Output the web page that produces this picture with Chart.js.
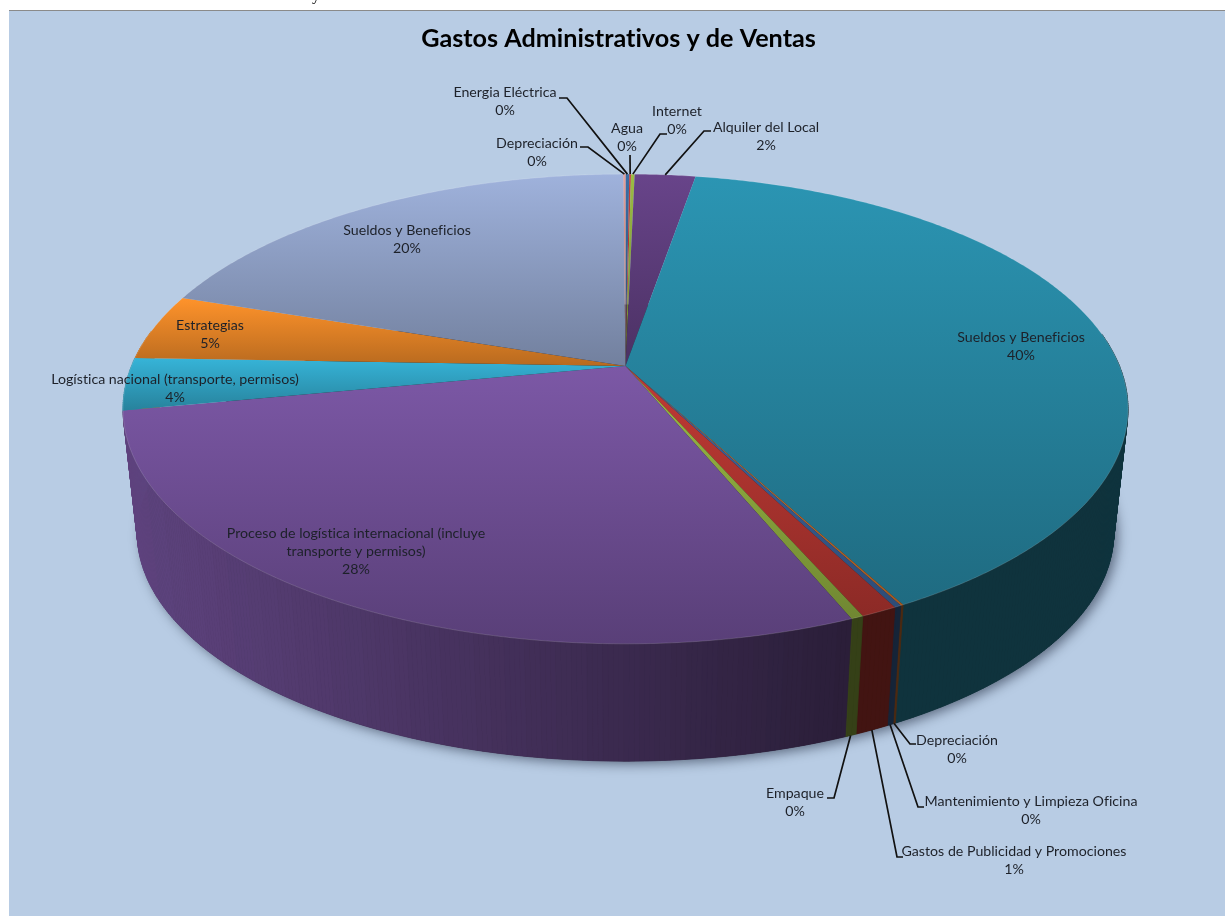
<!DOCTYPE html>
<html>
<head>
<meta charset="utf-8">
<title>Gastos Administrativos y de Ventas</title>
<script src="https://cdn.jsdelivr.net/npm/chart.js@4/dist/chart.umd.js"></script>
<style>
	html, body { margin: 0; padding: 0; background: #fff; overflow: hidden; }
	#chart_pie { position: absolute; left: 0; top: 0; }
	#resto { position: absolute; left: 312px; top: -14px; font: 16px "Liberation Serif", serif; color: #000; }
</style>
</head>
<body>
<canvas id="chart_pie" width="1225" height="916"></canvas>
<span id="resto">y</span>
<script>
var categorias = [
	"Energia Eléctrica",
	"Agua",
	"Internet",
	"Alquiler del Local",
	"Sueldos y Beneficios",
	"Depreciación",
	"Mantenimiento y Limpieza Oficina",
	"Gastos de Publicidad y Promociones",
	"Empaque",
	"Proceso de logística internacional (incluye\ntransporte y permisos)",
	"Logística nacional (transporte, permisos)",
	"Estrategias",
	"Sueldos y Beneficios",
	"Depreciación"
];
var porcentajes = [0.145, 0.065, 0.14, 2.33, 39.51, 0.075, 0.19, 1.0, 0.34, 28.17, 3.6, 4.56, 19.795, 0.08];
var colores = ["#3a6ea5", "#c8403a", "#9cbc45", "#68448a", "#2b95b3", "#e07a2e", "#3e6aa5",
	"#c23a35", "#9cbc45", "#7c58a6", "#36b4d8", "#ff932b", "#9fb2dc", "#e8a09a"];

// centro del texto de cada etiqueta
var pos_etiquetas = [[505, 92], [627, 128], [677, 111], [766, 127], [1021, 337], [957, 740], [1031, 801],
	[1014, 851], [795, 793], [356, 533], [175, 379], [210, 325], [407, 230], [537, 143]];
// lineas guia: codo y fin; cara 0 = borde superior, 1 = borde inferior
var guias = {
	0: { cara: 0, puntos: [[567, 98], [559, 98]] },
	1: { cara: 0, puntos: [[630, 155]] },
	2: { cara: 0, puntos: [[660, 134], [667, 134]] },
	3: { cara: 0, puntos: [[704, 131], [711, 131]] },
	5: { cara: 1, puntos: [[910, 744], [916, 744]] },
	6: { cara: 1, puntos: [[918, 807], [924, 807]] },
	7: { cara: 1, puntos: [[897, 857], [903, 857]] },
	8: { cara: 1, puntos: [[834, 798], [827, 798]] },
	13: { cara: 0, puntos: [[588, 147], [580, 147]] }
};

// disco superior e inferior del pastel, con perspectiva
var vista_sup = { cx: 625.5, cy: 366, a: 494, b: 227, p: -0.183 };
var vista_inf = { cx: 625.5, cy: 491, a: 480, b: 220.7, p: -0.183 };
var PASO = Math.PI / 360;
var FUENTE = '"Lato", sans-serif';

function proyectar(v, ang) {
	var k = 1 + v.p * Math.sin(ang);
	return { x: v.cx + v.a * Math.cos(ang) / k, y: v.cy + v.b * Math.sin(ang) / k };
}

function sombrear(hex, f) {
	var n = parseInt(hex.slice(1), 16);
	return "rgb(" + Math.round((n >> 16 & 255) * f) + "," + Math.round((n >> 8 & 255) * f) + "," + Math.round((n & 255) * f) + ")";
}

function angulos(arco) {
	var lista = [];
	for (var t = arco.startAngle; t < arco.endAngle; t += PASO) lista.push(t);
	lista.push(arco.endAngle);
	return lista;
}

function dibujarParedes(ctx, arcos) {
	// sombra del cuerpo sobre el fondo
	ctx.save();
	ctx.shadowColor = "rgba(20,30,50,0.55)";
	ctx.shadowBlur = 12;
	ctx.shadowOffsetX = 4;
	ctx.shadowOffsetY = 3;
	ctx.fillStyle = "#222";
	ctx.beginPath();
	for (var t = 0; t < Math.PI * 2; t += PASO * 4) {
		var q = proyectar(vista_inf, t);
		ctx.lineTo(q.x, q.y);
	}
	ctx.closePath();
	ctx.fill();
	ctx.restore();

	// tiras verticales, de atras hacia adelante
	var tiras = [];
	arcos.forEach(function (arco, i) {
		var lista = angulos(arco);
		for (var j = 0; j < lista.length - 1; j++) {
			if (Math.sin(lista[j]) > -0.15) tiras.push({ t0: lista[j], t1: lista[j + 1], color: colores[i] });
		}
	});
	tiras.sort(function (a, b) { return Math.sin(a.t0) - Math.sin(b.t0); });
	tiras.forEach(function (s) {
		var a = proyectar(vista_sup, s.t0), b = proyectar(vista_sup, s.t1);
		var c = proyectar(vista_inf, s.t1), d = proyectar(vista_inf, s.t0);
		// el tono cambia por bandas de izquierda a derecha
		var banda = Math.floor(d.x / 16) * 16;
		var f = 0.76 - 0.42 * (banda - 135) / 705;
		f = Math.max(0.34, Math.min(0.76, f));
		ctx.fillStyle = ctx.strokeStyle = sombrear(s.color, f);
		ctx.lineWidth = 0.8;
		ctx.beginPath();
		ctx.moveTo(a.x, a.y);
		ctx.lineTo(b.x, b.y);
		ctx.lineTo(c.x, c.y);
		ctx.lineTo(d.x, d.y);
		ctx.closePath();
		ctx.fill();
		ctx.stroke();
	});
}

function dibujarCara(ctx, arcos) {
	arcos.forEach(function (arco, i) {
		var puntos = angulos(arco).map(function (t) { return proyectar(vista_sup, t); });
		var ys = puntos.map(function (q) { return q.y; }).concat(vista_sup.cy);
		var grad = ctx.createLinearGradient(0, Math.min.apply(null, ys), 0, Math.max.apply(null, ys));
		grad.addColorStop(0, colores[i]);
		grad.addColorStop(1, sombrear(colores[i], 0.72));
		ctx.fillStyle = grad;
		ctx.beginPath();
		ctx.moveTo(vista_sup.cx, vista_sup.cy);
		puntos.forEach(function (q) { ctx.lineTo(q.x, q.y); });
		ctx.closePath();
		ctx.fill();
		// borde claro
		ctx.strokeStyle = "rgba(255,255,255,0.14)";
		ctx.lineWidth = 1;
		ctx.beginPath();
		puntos.forEach(function (q) { ctx.lineTo(q.x, q.y); });
		ctx.stroke();
	});
}

function dibujarEtiquetas(ctx, arcos) {
	ctx.strokeStyle = "#111";
	ctx.lineWidth = 1.7;
	arcos.forEach(function (arco, i) {
		var g = guias[i];
		if (!g) return;
		var medio = (arco.startAngle + arco.endAngle) / 2;
		var ini = proyectar(g.cara ? vista_inf : vista_sup, medio);
		ctx.beginPath();
		ctx.moveTo(ini.x, ini.y);
		g.puntos.forEach(function (q) { ctx.lineTo(q[0], q[1]); });
		ctx.stroke();
	});

	var total = porcentajes.reduce(function (s, x) { return s + x; }, 0);
	ctx.fillStyle = "#1d2129";
	ctx.font = "14.2px " + FUENTE;
	ctx.textAlign = "center";
	ctx.textBaseline = "middle";
	categorias.forEach(function (nombre, i) {
		var lineas = nombre.split("\n");
		lineas.push(Math.round(porcentajes[i] / total * 100) + "%");
		lineas.forEach(function (txt, n) {
			ctx.fillText(txt, pos_etiquetas[i][0], pos_etiquetas[i][1] + n * 18.3);
		});
	});
}

var pastel3d = {
	id: "pastel3d",
	beforeDraw: function (chart) {
		var ctx = chart.ctx;
		ctx.textRendering = "optimizeSpeed"; // sin ligaduras en los textos
		ctx.fillStyle = "#b8cce4";
		ctx.fillRect(9, 10, chart.width - 9, chart.height - 10);
		ctx.fillStyle = "#8a8a8a";
		ctx.fillRect(9, 10, chart.width - 9, 1);
	},
	beforeDatasetsDraw: function (chart) {
		var ctx = chart.ctx;
		var arcos = chart.getDatasetMeta(0).data;
		dibujarParedes(ctx, arcos);
		dibujarCara(ctx, arcos);
		dibujarEtiquetas(ctx, arcos);
		return false; // los arcos planos no se dibujan
	}
};

var canvas = document.getElementById("chart_pie").getContext("2d");
window.pastel = new Chart(canvas, {
	type: "pie",
	data: {
		labels: categorias,
		datasets: [{ data: porcentajes, backgroundColor: colores }]
	},
	options: {
		responsive: false,
		animation: false,
		events: [],
		layout: { padding: { left: 12 } },
		plugins: {
			legend: { display: false },
			tooltip: { enabled: false },
			title: {
				display: true,
				text: "Gastos Administrativos y de Ventas",
				color: "#000",
				font: { family: FUENTE, size: 25.2, weight: "bold" },
				padding: { top: 24, bottom: 10 }
			}
		}
	},
	plugins: [pastel3d]
});
</script>
</body>
</html>
